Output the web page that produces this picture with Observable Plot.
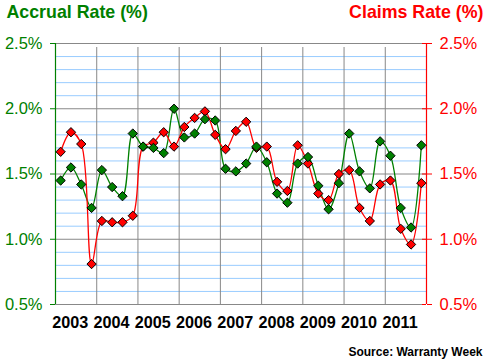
<!DOCTYPE html>
<html>
<head>
<meta charset="utf-8">
<script src="https://cdn.jsdelivr.net/npm/d3@7"></script>
<script src="https://cdn.jsdelivr.net/npm/@observablehq/plot@0.6"></script>
<style>
  html, body { margin: 0; padding: 0; background: #fff; }
  #chart svg { display: block; }
</style>
</head>
<body>
<div id="chart"></div>
<script>
const years = [2003, 2004, 2005, 2006, 2007, 2008, 2009, 2010, 2011];
const quarters = ["Q1", "Q2", "Q3", "Q4"];
const accrualRate = [1.45,1.55,1.42,1.24, 1.53,1.40,1.33,1.81, 1.71,1.70,1.66,2.00, 1.78,1.81,1.92,1.91, 1.54,1.52,1.58,1.71, 1.59,1.35,1.28,1.58, 1.63,1.41,1.23,1.43, 1.81,1.52,1.39,1.75, 1.64,1.24,1.09,1.72];
const claimsRate  = [1.67,1.82,1.73,0.81, 1.14,1.13,1.13,1.18, 1.71,1.74,1.82,1.71, 1.86,1.93,1.98,1.80, 1.69,1.83,1.90,1.70, 1.71,1.44,1.37,1.72, 1.58,1.35,1.30,1.50, 1.53,1.24,1.14,1.42, 1.45,1.08,0.96,1.43];
const yTicks = [0.5, 1.0, 1.5, 2.0, 2.5];
const minorTicks = [0.6,0.7,0.8,0.9,1.1,1.2,1.3,1.4,1.6,1.7,1.8,1.9,2.1,2.2,2.3,2.4];

const GREEN = "#008000", RED = "#ff0000";

const rows = [];
years.forEach((yr, i) => quarters.forEach((q, j) => {
  const k = i * 4 + j;
  rows.push({t: yr + (j + 0.5) / 4, accrual: accrualRate[k], claims: claimsRate[k]});
}));
const bounds = years.concat([years[years.length - 1] + 1]);
const x0 = bounds[0], x1 = bounds[bounds.length - 1];
const fmt = d => d.toFixed(1) + "%";

const chart = Plot.plot({
  width: 486, height: 362,
  marginLeft: 55, marginRight: 60, marginTop: 43, marginBottom: 58,
  style: {fontFamily: "'Liberation Sans', Arial, sans-serif", background: "#fff"},
  x: {type: "linear", domain: [x0, x1], axis: null},
  y: {type: "linear", domain: [0.5, 2.5], axis: null},
  marks: [
    Plot.ruleY(minorTicks, {x1: x0, x2: x1, stroke: "#99ccff", strokeWidth: 1}),
    Plot.ruleY(yTicks, {x1: x0, x2: x1, stroke: "#888", strokeWidth: 1}),
    Plot.ruleX(bounds.slice(1, -1), {y1: 0.5, y2: 2.5, stroke: "#888", strokeWidth: 1, insetBottom: -4}),
    Plot.ruleX([x0], {y1: 0.5, y2: 2.5, stroke: GREEN, strokeWidth: 1.2}),
    Plot.ruleX([x1], {y1: 0.5, y2: 2.5, stroke: RED, strokeWidth: 1.2}),
    Plot.axisY({anchor: "left", ticks: yTicks, tickSize: 5, tickPadding: 8, color: GREEN, fontSize: 16.5, tickFormat: fmt, label: null}),
    Plot.axisY({anchor: "right", ticks: yTicks, tickSize: 5, tickPadding: 8, color: RED, fontSize: 16.5, tickFormat: fmt, label: null}),
    Plot.ruleY(yTicks, {x1: x1, x2: x1, insetLeft: -4, stroke: RED, strokeWidth: 1}),
    Plot.line(rows, {x: "t", y: "accrual", stroke: GREEN, strokeWidth: 1.3, curve: "catmull-rom"}),
    Plot.line(rows, {x: "t", y: "claims", stroke: RED, strokeWidth: 1.3, curve: "catmull-rom"}),
    Plot.dot(rows, {x: "t", y: "claims", symbol: "diamond2", r: 4.2, fill: RED, stroke: "#000", strokeWidth: 1}),
    Plot.dot(rows, {x: "t", y: "accrual", symbol: "diamond2", r: 4.2, fill: GREEN, stroke: "#000", strokeWidth: 1}),
    Plot.text(years, {x: d => d + 0.36, y: 0.5, dy: 18, text: d => String(d), fontSize: 16.2, fontWeight: "bold", fill: "#000"}),
    Plot.text(["Accrual Rate (%)"], {frameAnchor: "top-left", dx: -49, dy: -38.5, lineAnchor: "top", textAnchor: "start", fontSize: 17.8, fontWeight: "bold", fill: GREEN}),
    Plot.text(["Claims Rate (%)"], {frameAnchor: "top-right", dx: 57, dy: -38.5, lineAnchor: "top", textAnchor: "end", fontSize: 17.8, fontWeight: "bold", fill: RED}),
    Plot.text(["Source: Warranty Week"], {frameAnchor: "bottom-right", dx: 56, dy: 51, lineAnchor: "bottom", textAnchor: "end", fontSize: 12, fontWeight: "bold", fill: "#000"})
  ]
});
document.getElementById("chart").appendChild(chart);
</script>
</body>
</html>
